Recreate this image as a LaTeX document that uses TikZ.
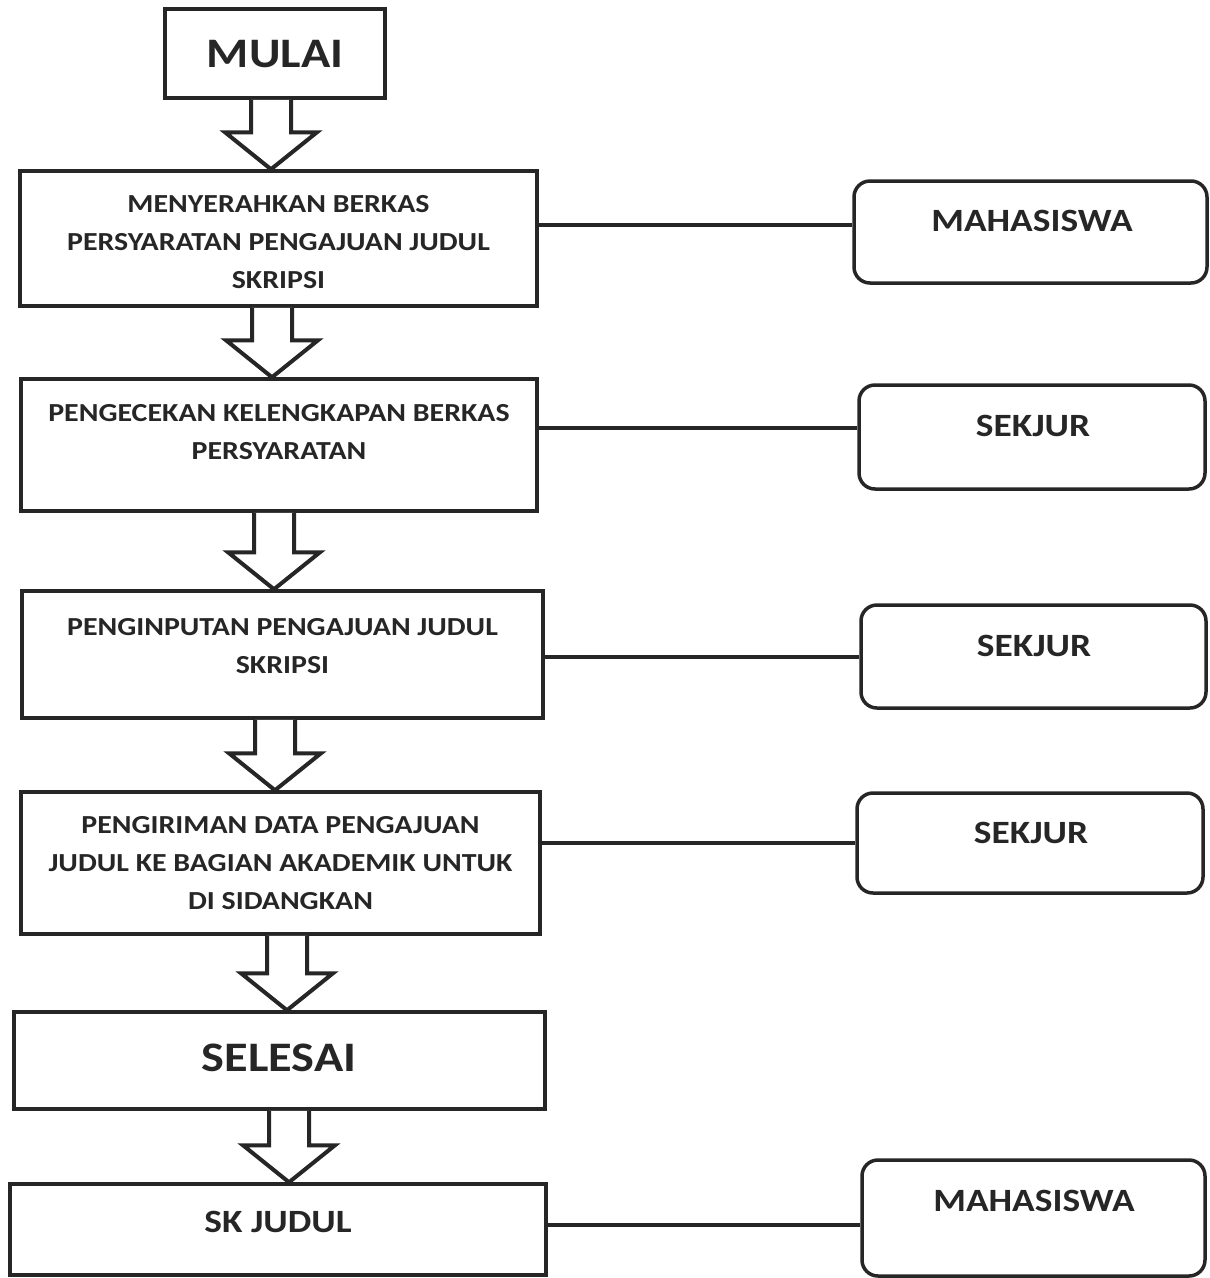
\documentclass[tikz,border=0pt]{standalone}
\usepackage{fontspec}
\setmainfont{Carlito}[FakeStretch=1.15]
\usetikzlibrary{calc}
\tikzset{
  box/.style={draw=black!85, line width=3.5pt, rectangle, inner sep=0pt},
  rbox/.style={box, rounded corners=16pt},
  txt/.style={font=\bfseries\fontsize{26}{38}\selectfont, align=center, text=black!85, inner sep=0pt},
  rtxt/.style={font=\bfseries\fontsize{32.5}{38}\selectfont, text=black!85, inner sep=0pt},
  bigtxt/.style={font=\bfseries\fontsize{42}{48}\selectfont, text=black!85, inner sep=0pt},
  link/.style={draw=black!85, line width=3.5pt},
  blkarr/.style={draw=black!85, line width=4pt, fill=white, line join=miter},
}
\newcommand\blk[3]{%
  \path (#3,0 |- #1.south) coordinate (t) (#3,0 |- #2.north) coordinate (b);
  \draw[blkarr] let \p1=(t), \p2=(b) in
    (\x1-20pt,\y1) -- (\x1-20pt,\y2+37pt) -- (\x1-46pt,\y2+37pt) -- (\x1,\y2)
    -- (\x1+46pt,\y2+37pt) -- (\x1+20pt,\y2+37pt) -- (\x1+20pt,\y1);
}
\begin{document}
\begin{tikzpicture}[x=1pt,y=-1pt]
\useasboundingbox[fill=white] (0,0) rectangle (1210,1278);
% left boxes
\node[box, minimum width=220pt, minimum height=89pt] (m) at (275,53.5) {};
\node[bigtxt] (mt) at (275,54) {MULAI};
\node[box, minimum width=517pt, minimum height=135pt] (b1) at (278.5,238.5) {};
\node[txt] (b1t) at (278.5,242) {MENYERAHKAN BERKAS\\PERSYARATAN PENGAJUAN JUDUL\\SKRIPSI};
\node[box, minimum width=516pt, minimum height=132pt] (b2) at (279,445) {};
\node[txt] (b2t) at (279,432) {PENGECEKAN KELENGKAPAN BERKAS\\PERSYARATAN};
\node[box, minimum width=521pt, minimum height=127pt] (b3) at (282.5,654.5) {};
\node[txt] (b3t) at (282.5,646) {PENGINPUTAN PENGAJUAN JUDUL\\SKRIPSI};
\node[box, minimum width=519pt, minimum height=142pt] (b4) at (280.5,863) {};
\node[txt] (b4t) at (280.5,863) {PENGIRIMAN DATA PENGAJUAN\\JUDUL KE BAGIAN AKADEMIK UNTUK\\DI SIDANGKAN};
\node[box, minimum width=531pt, minimum height=97pt] (s) at (279.5,1060.5) {};
\node[bigtxt] (st) at (279,1058) {SELESAI};
\node[box, minimum width=536pt, minimum height=91pt] (k) at (278,1229.5) {};
\node[rtxt] (kt) at (278,1222) {SK JUDUL};
% right boxes
\node[rbox, minimum width=353pt, minimum height=102pt] (r1) at (1030.5,232) {};
\node[rtxt] (r1t) at (1032,221) {MAHASISWA};
\node[rbox, minimum width=346pt, minimum height=104pt] (r2) at (1032,437) {};
\node[rtxt] (r2t) at (1033,426) {SEKJUR};
\node[rbox, minimum width=345pt, minimum height=103pt] (r3) at (1033.5,656.5) {};
\node[rtxt] (r3t) at (1034,646) {SEKJUR};
\node[rbox, minimum width=346pt, minimum height=100pt] (r4) at (1030,843) {};
\node[rtxt] (r4t) at (1031,833) {SEKJUR};
\node[rbox, minimum width=343pt, minimum height=116pt] (r5) at (1033.5,1218) {};
\node[rtxt] (r5t) at (1034,1201) {MAHASISWA};
% connectors
\draw[link] (b1.east |- 0,225) -- (r1.west |- 0,225);
\draw[link] (b2.east |- 0,428) -- (r2.west |- 0,428);
\draw[link] (b3.east |- 0,657) -- (r3.west |- 0,657);
\draw[link] (b4.east |- 0,843) -- (r4.west |- 0,843);
\draw[link] (k.east |- 0,1225) -- (r5.west |- 0,1225);
% block arrows
\blk{m}{b1}{271}
\blk{b1}{b2}{272}
\blk{b2}{b3}{274}
\blk{b3}{b4}{275}
\blk{b4}{s}{287}
\blk{s}{k}{289}
\end{tikzpicture}
\end{document}
